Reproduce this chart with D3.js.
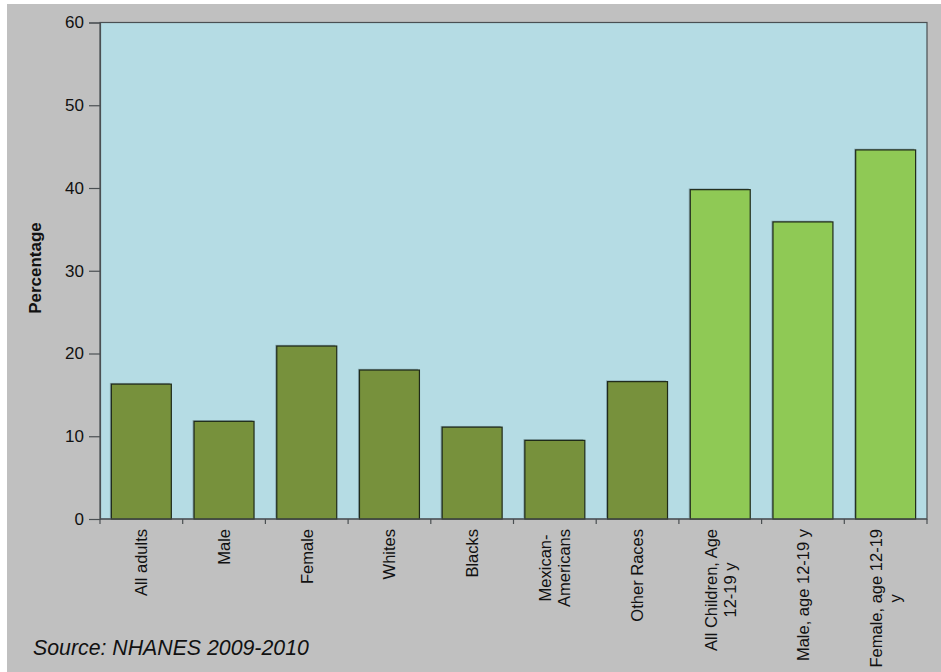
<!DOCTYPE html>
<html>
<head>
<meta charset="utf-8">
<script src="https://cdn.jsdelivr.net/npm/d3@7"></script>
<style>
  html, body { margin: 0; padding: 0; background: #ffffff; }
  svg { display: block; }
  text { font-family: "Liberation Sans", Arial, sans-serif; fill: #111; }
</style>
</head>
<body>
<svg id="chart" width="941" height="672"></svg>
<script>
// Prevalence by group (percent)
const categories = [
  ["All adults"],
  ["Male"],
  ["Female"],
  ["Whites"],
  ["Blacks"],
  ["Mexican-", "Americans"],
  ["Other Races"],
  ["All Children, Age", "12-19 y"],
  ["Male, age 12-19 y"],
  ["Female, age 12-19", "y"]
];
const values = [16.3, 11.8, 20.9, 18.0, 11.1, 9.5, 16.6, 39.8, 35.9, 44.6];
const groups = ["adult", "adult", "adult", "adult", "adult", "adult", "adult", "youth", "youth", "youth"];
const yTicks = [0, 10, 20, 30, 40, 50, 60];

const colors = { adult: "#77913c", youth: "#8fc955" };

const svg = d3.select("#chart");
const W = 941, H = 672;
const plot = { left: 100, right: 927, top: 22.5, bottom: 519 };

// page background
svg.append("rect").attr("x", 7).attr("y", 4).attr("width", W - 7).attr("height", H - 4)
  .attr("fill", "#c0c0c0");

const keys = categories.map((c, i) => i);
const x = d3.scaleBand().domain(keys).range([plot.left, plot.right])
  .paddingInner(0.275).paddingOuter(0.1375);
const y = d3.scaleLinear().domain([0, 60]).range([plot.bottom, plot.top]);

// plot area
svg.append("rect")
  .attr("x", plot.left).attr("y", plot.top)
  .attr("width", plot.right - plot.left).attr("height", plot.bottom - plot.top)
  .attr("fill", "#b5dce4").attr("stroke", "#4a4f52").attr("stroke-width", 1.2);

// bar shadows
svg.append("g").selectAll("rect").data(values).join("rect")
  .attr("x", (d, i) => x(i) - 1.5)
  .attr("y", d => y(d) - 1.2)
  .attr("width", x.bandwidth())
  .attr("height", d => plot.bottom - y(d))
  .attr("fill", "#6f8c94").attr("opacity", 0.7);

// bars
svg.append("g").selectAll("rect").data(values).join("rect")
  .attr("x", (d, i) => x(i))
  .attr("y", d => y(d))
  .attr("width", x.bandwidth())
  .attr("height", d => plot.bottom - y(d))
  .attr("fill", (d, i) => colors[groups[i]])
  .attr("stroke", "#1f2a1a").attr("stroke-width", 1.2);

// y axis
const yAxis = d3.axisLeft(y).tickValues(yTicks).tickSize(11).tickPadding(5).tickFormat(d3.format("d"));
const gy = svg.append("g").attr("transform", `translate(${plot.left},0)`).call(yAxis);
gy.select(".domain").attr("stroke", "#4a4f52").attr("stroke-width", 1.2);
gy.selectAll(".tick line").attr("stroke", "#4a4f52").attr("stroke-width", 1.2);
gy.selectAll(".tick text").attr("font-size", 17).attr("fill", "#111")
  .attr("font-family", "Liberation Sans, Arial, sans-serif");

// x axis baseline and band boundary ticks
const gx = svg.append("g");
gx.append("line").attr("x1", plot.left).attr("x2", plot.right)
  .attr("y1", plot.bottom).attr("y2", plot.bottom)
  .attr("stroke", "#4a4f52").attr("stroke-width", 1.2);
const bounds = keys.map(i => x(i) - x.step() * x.paddingInner() / 2);
bounds.push(plot.right);
bounds[0] = plot.left;
gx.selectAll("line.tk").data(bounds).join("line").attr("class", "tk")
  .attr("x1", d => d).attr("x2", d => d)
  .attr("y1", plot.bottom).attr("y2", plot.bottom + 5)
  .attr("stroke", "#4a4f52").attr("stroke-width", 1.2);

// category labels, rotated, top-aligned below the axis
const labelTop = 529, lineH = 19, fs = 16.5;
categories.forEach((lines, i) => {
  const cx = x(i) + x.bandwidth() / 2;
  const t = svg.append("text")
    .attr("transform", `translate(${cx},${labelTop}) rotate(-90)`)
    .attr("font-size", fs).attr("text-anchor", "middle");
  const n = lines.length;
  const spans = lines.map((s, k) => t.append("tspan")
    .attr("y", (k - (n - 1) / 2) * lineH + fs * 0.35)
    .text(s));
  const maxLen = d3.max(spans, s => s.node().getComputedTextLength());
  spans.forEach(s => s.attr("x", -maxLen / 2));
});

// y axis title
svg.append("text")
  .attr("transform", `translate(41,268) rotate(-90)`)
  .attr("text-anchor", "middle").attr("font-size", 17).attr("font-weight", "bold")
  .text("Percentage");

// source note
svg.append("text")
  .attr("x", 33).attr("y", 655)
  .attr("font-size", 21.3).attr("font-style", "italic")
  .text("Source: NHANES 2009-2010");
</script>
</body>
</html>
